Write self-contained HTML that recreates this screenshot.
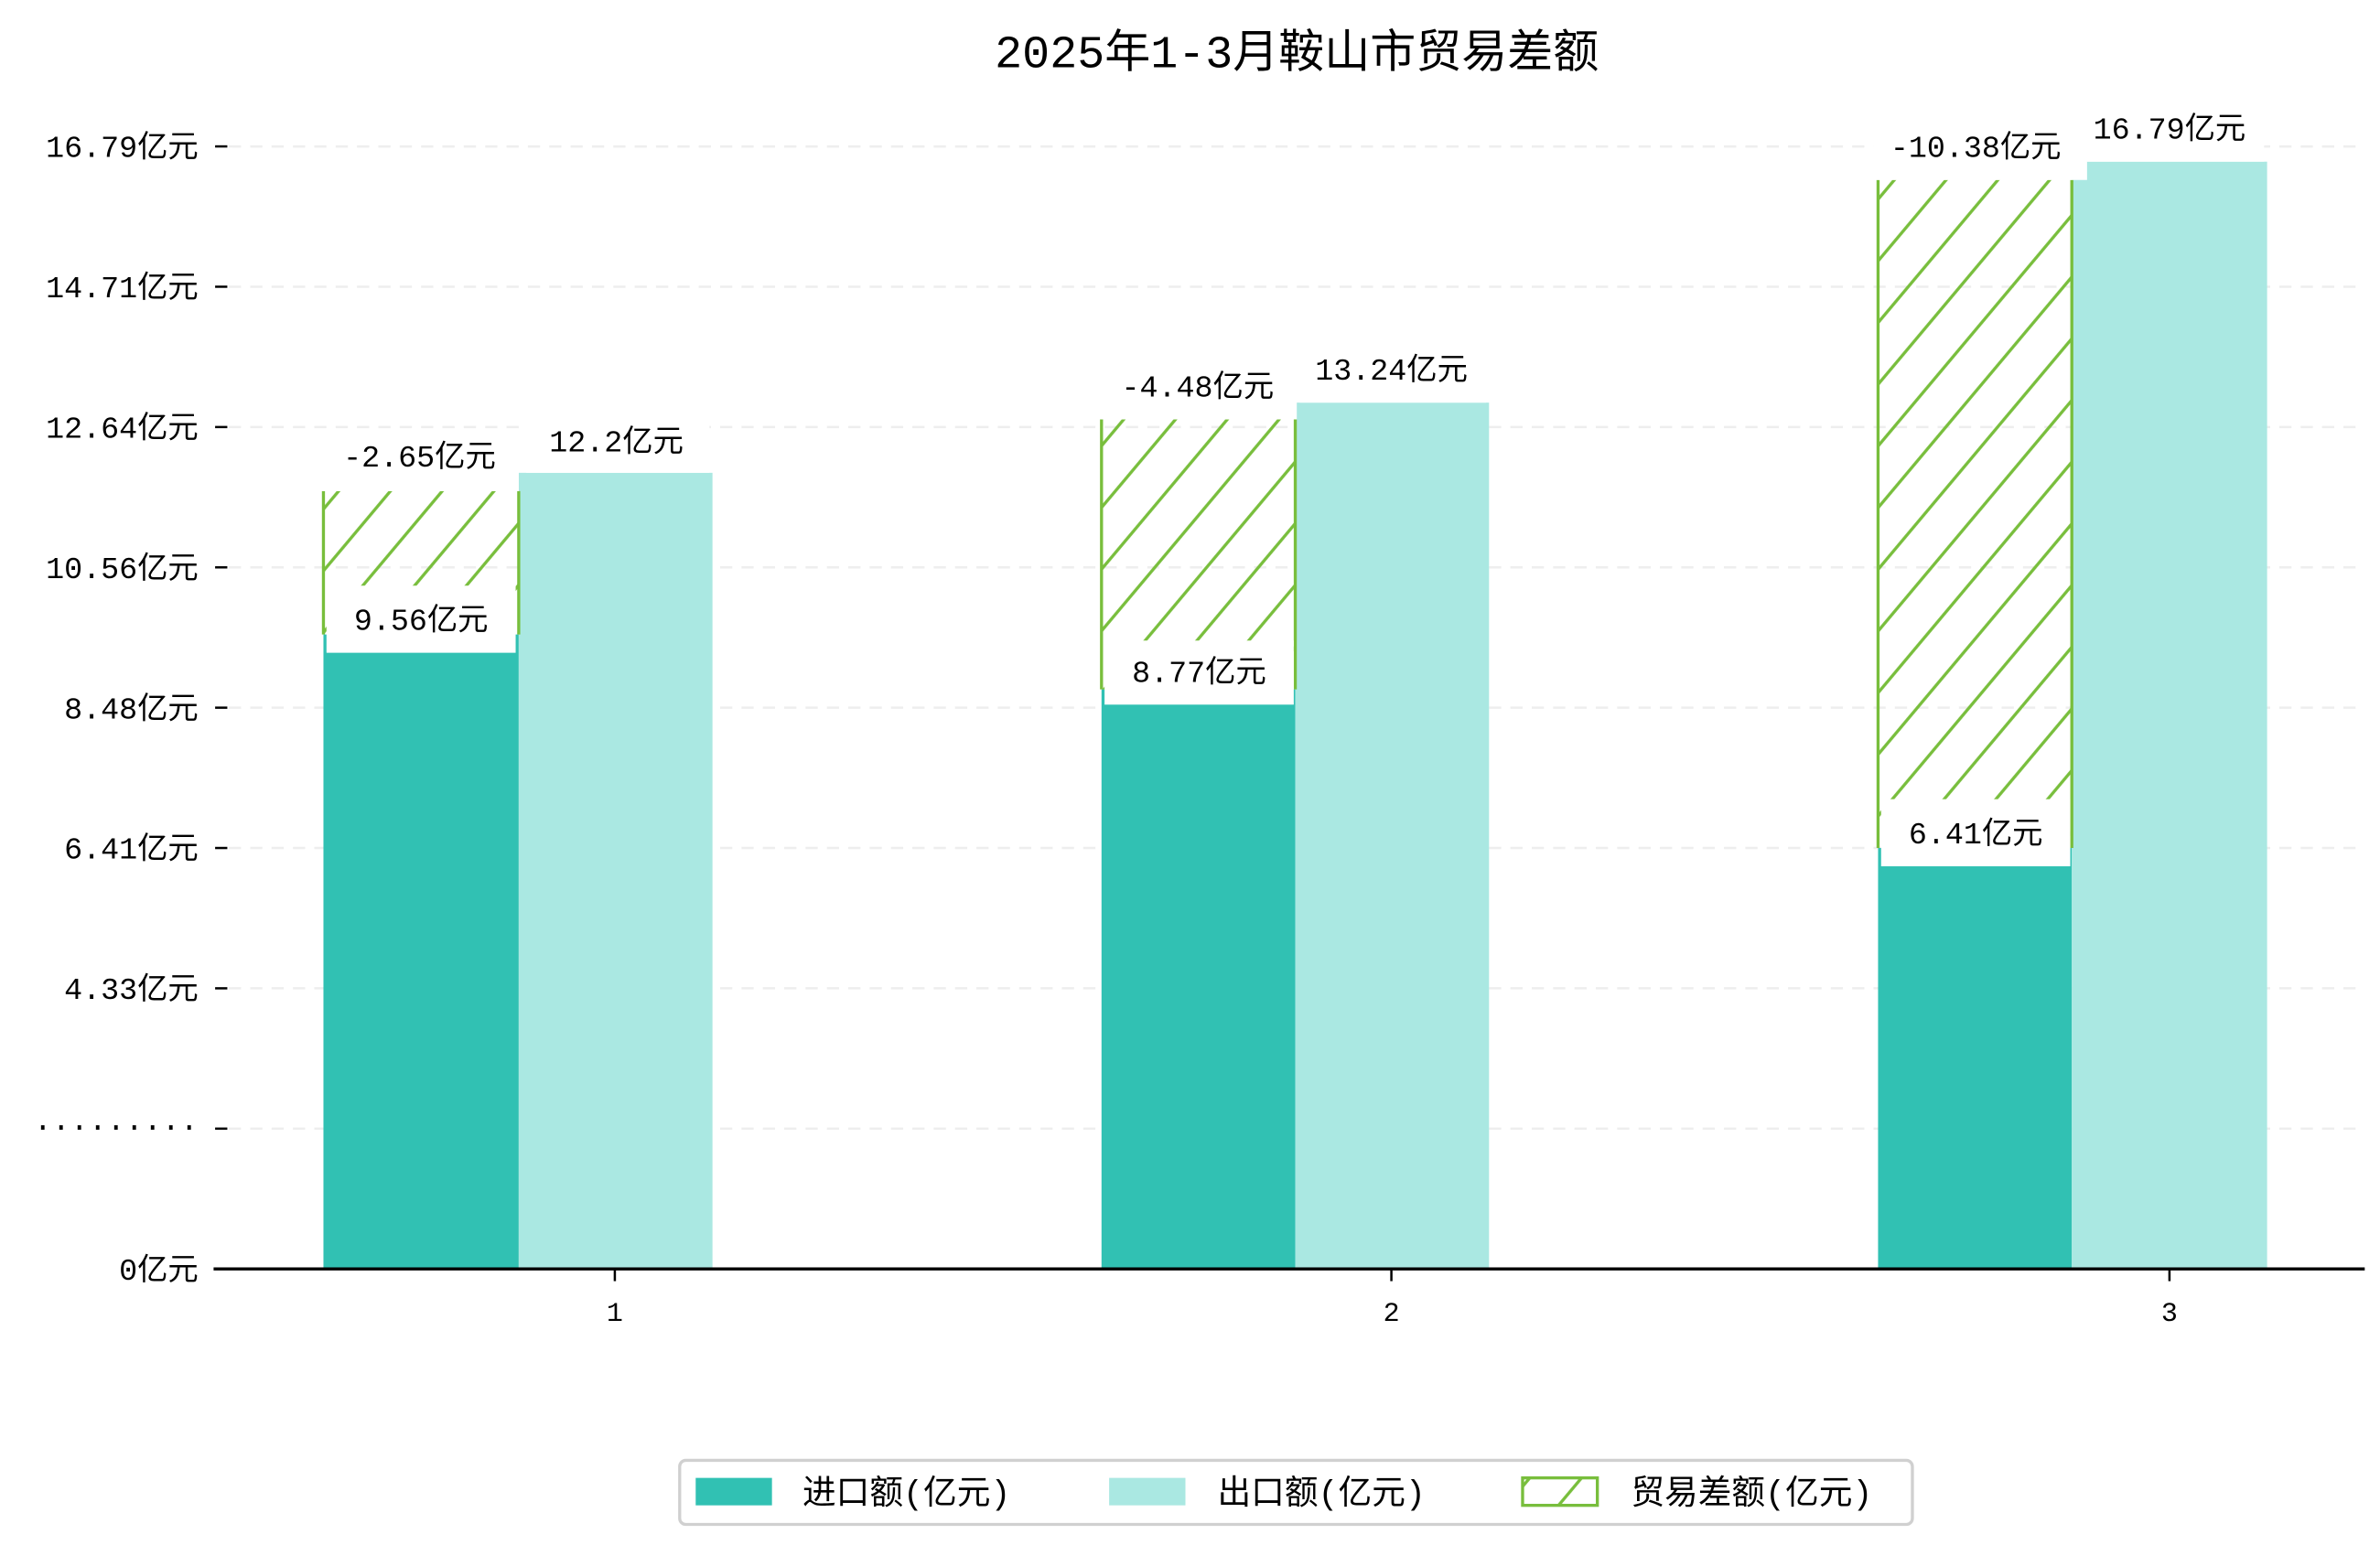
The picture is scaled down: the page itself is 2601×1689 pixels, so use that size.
<!DOCTYPE html>
<html><head><meta charset="utf-8"><style>
html,body{margin:0;padding:0;background:#fff}
svg{display:block}
text{font-family:"Liberation Mono","Noto Sans CJK SC",monospace;fill:#000}
</style></head><body>
<svg width="2601" height="1689" viewBox="0 0 1560 1013" preserveAspectRatio="none">
<defs>
<pattern id="h" patternUnits="userSpaceOnUse" width="26" height="26" patternTransform="rotate(40)">
<line x1="13" y1="-5" x2="13" y2="31" stroke="#78be3c" stroke-width="2"/>
</pattern>
</defs>
<text x="850" y="44" font-size="30" text-anchor="middle">2025年1-3月鞍山市贸易差额</text>
<g stroke="#eeeeee" stroke-width="1.5" stroke-dasharray="8,6">
<line x1="150" y1="96" x2="1550" y2="96"/><line x1="150" y1="188" x2="1550" y2="188"/>
<line x1="150" y1="280" x2="1550" y2="280"/><line x1="150" y1="372" x2="1550" y2="372"/>
<line x1="150" y1="464" x2="1550" y2="464"/><line x1="150" y1="556" x2="1550" y2="556"/>
<line x1="150" y1="648" x2="1550" y2="648"/><line x1="150" y1="740" x2="1550" y2="740"/>
</g>
<g font-size="20" text-anchor="end">
<text x="130" y="103">16.79亿元</text><text x="130" y="195">14.71亿元</text>
<text x="130" y="287">12.64亿元</text><text x="130" y="379">10.56亿元</text>
<text x="130" y="471">8.48亿元</text><text x="130" y="563">6.41亿元</text>
<text x="130" y="655">4.33亿元</text><text x="130" y="745">·········</text>
<text x="130" y="839">0亿元</text>
</g>
<g stroke="#000" stroke-width="1.5">
<line x1="141" y1="96" x2="149" y2="96"/><line x1="141" y1="188" x2="149" y2="188"/>
<line x1="141" y1="280" x2="149" y2="280"/><line x1="141" y1="372" x2="149" y2="372"/>
<line x1="141" y1="464" x2="149" y2="464"/><line x1="141" y1="556" x2="149" y2="556"/>
<line x1="141" y1="648" x2="149" y2="648"/><line x1="141" y1="740" x2="149" y2="740"/>
<line x1="141" y1="832" x2="149" y2="832"/>
</g>
<rect x="212" y="416" width="128" height="416" fill="#31c1b3"/>
<rect x="340" y="310" width="127" height="522" fill="#aae8e2"/>
<rect x="722" y="452" width="127" height="380" fill="#31c1b3"/>
<rect x="849" y="264" width="127" height="568" fill="#aae8e2"/>
<rect x="1231" y="556" width="127" height="276" fill="#31c1b3"/>
<rect x="1358" y="106" width="128" height="726" fill="#aae8e2"/>
<rect x="212" y="322" width="128" height="94" fill="url(#h)"/>
<rect x="722" y="275" width="127" height="177" fill="url(#h)"/>
<rect x="1231" y="118" width="127" height="438" fill="url(#h)"/>
<g stroke="#78be3c" stroke-width="2">
<line x1="212" y1="322" x2="212" y2="416"/><line x1="340" y1="322" x2="340" y2="416"/>
<line x1="722" y1="275" x2="722" y2="452"/><line x1="849" y1="275" x2="849" y2="452"/>
<line x1="1231" y1="118" x2="1231" y2="556"/><line x1="1358" y1="118" x2="1358" y2="556"/>
</g>
<g fill="#fff">
<rect x="214" y="384" width="124" height="44"/><rect x="724" y="420" width="124" height="42"/>
<rect x="1233" y="524" width="124" height="44"/>
<rect x="210" y="282" width="130" height="40"/><rect x="345" y="272" width="120" height="38"/>
<rect x="722" y="236" width="128" height="39"/><rect x="852" y="226" width="122" height="38"/>
<rect x="1228" y="80" width="140" height="38"/><rect x="1364" y="68" width="120" height="38"/>
</g>
<g font-size="20" text-anchor="middle">
<text x="276" y="413">9.56亿元</text><text x="786" y="447">8.77亿元</text>
<text x="1295" y="553">6.41亿元</text>
<text x="275" y="306">-2.65亿元</text><text x="404" y="296">12.2亿元</text>
<text x="785" y="260">-4.48亿元</text><text x="912" y="249">13.24亿元</text>
<text x="1295" y="103">-10.38亿元</text><text x="1422" y="91">16.79亿元</text>
</g>
<line x1="140" y1="832" x2="1550" y2="832" stroke="#000" stroke-width="2"/>
<g stroke="#000" stroke-width="1.5">
<line x1="403" y1="832" x2="403" y2="840"/><line x1="912" y1="832" x2="912" y2="840"/><line x1="1422" y1="832" x2="1422" y2="840"/>
</g>
<g font-size="18" text-anchor="middle">
<text x="403" y="866">1</text><text x="912" y="866">2</text><text x="1422" y="866">3</text>
</g>
<rect x="445.5" y="957.5" width="808" height="42" rx="4" fill="#fff" stroke="#d0d0d0" stroke-width="2"/>
<rect x="456" y="969" width="50" height="18" fill="#31c1b3"/>
<text x="526" y="986" font-size="22">进口额(亿元)</text>
<rect x="727" y="969" width="50" height="18" fill="#aae8e2"/>
<text x="798" y="986" font-size="22">出口额(亿元)</text>
<rect x="998" y="969" width="49" height="18" fill="url(#h)" stroke="#78be3c" stroke-width="2"/>
<text x="1069" y="986" font-size="22">贸易差额(亿元)</text>
</svg>
</body></html>
